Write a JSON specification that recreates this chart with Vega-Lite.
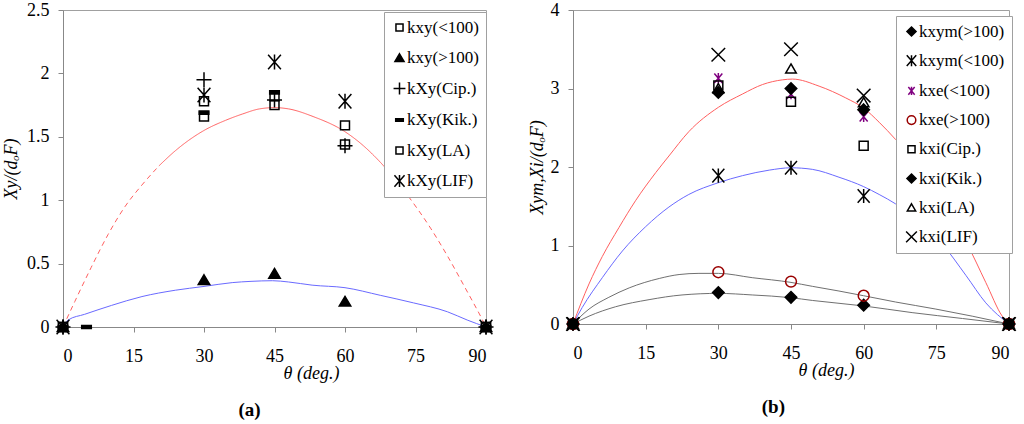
{
  "$schema": "https://vega.github.io/schema/vega-lite/v6.json",
  "padding": {"left": 2, "top": 0, "right": 0, "bottom": 0},
  "background": "white",
  "bounds": "flush",
  "spacing": 87,
  "config": {
    "view": {"stroke": "#a0a0a0", "strokeWidth": 1},
    "axis": {
      "labelFont": "Liberation Serif, Times New Roman, serif", "labelFontSize": 18, "labelColor": "black",
      "titleFont": "Liberation Serif, Times New Roman, serif", "titleFontSize": 18, "titleFontStyle": "italic", "titleFontWeight": "normal", "titleColor": "black",
      "domainColor": "#888", "tickColor": "#888", "grid": false, "tickSize": 5
    },
    "legend": {
      "labelFont": "Liberation Serif, Times New Roman, serif", "labelColor": "black",
      "symbolSize": 160, "symbolStrokeWidth": 1.5,
      "fillColor": "white", "strokeColor": "#a0a0a0", "labelOffset": -1
    }
  },
  "datasets": {
    "curvesA": [
      {"c": "red", "part": "p1", "style": "dash", "x": 0, "y": 0},
      {"c": "red", "part": "p1", "style": "dash", "x": 2.5, "y": 0.2},
      {"c": "red", "part": "p1", "style": "dash", "x": 6, "y": 0.47},
      {"c": "red", "part": "p1", "style": "dash", "x": 9.6, "y": 0.73},
      {"c": "red", "part": "p1", "style": "dash", "x": 13.2, "y": 0.95},
      {"c": "red", "part": "p1", "style": "dash", "x": 16.8, "y": 1.12},
      {"c": "red", "part": "p1", "style": "dash", "x": 20.4, "y": 1.27},
      {"c": "red", "part": "p2", "style": "solid", "x": 20.4, "y": 1.27},
      {"c": "red", "part": "p2", "style": "solid", "x": 23.9, "y": 1.39},
      {"c": "red", "part": "p2", "style": "solid", "x": 30, "y": 1.55},
      {"c": "red", "part": "p2", "style": "solid", "x": 34.6, "y": 1.63},
      {"c": "red", "part": "p2", "style": "solid", "x": 38.2, "y": 1.68},
      {"c": "red", "part": "p2", "style": "solid", "x": 41.8, "y": 1.72},
      {"c": "red", "part": "p2", "style": "solid", "x": 45, "y": 1.73},
      {"c": "red", "part": "p2", "style": "solid", "x": 48, "y": 1.72},
      {"c": "red", "part": "p2", "style": "solid", "x": 53.2, "y": 1.66},
      {"c": "red", "part": "p2", "style": "solid", "x": 60, "y": 1.54},
      {"c": "red", "part": "p2", "style": "solid", "x": 63.9, "y": 1.43},
      {"c": "red", "part": "p2", "style": "solid", "x": 67.5, "y": 1.3},
      {"c": "red", "part": "p2", "style": "solid", "x": 73.5, "y": 1.03},
      {"c": "red", "part": "p3", "style": "dash", "x": 73.5, "y": 1.03},
      {"c": "red", "part": "p3", "style": "dash", "x": 78.2, "y": 0.78},
      {"c": "red", "part": "p3", "style": "dash", "x": 81.8, "y": 0.56},
      {"c": "red", "part": "p3", "style": "dash", "x": 85.4, "y": 0.32},
      {"c": "red", "part": "p3", "style": "dash", "x": 89.6, "y": 0.03},
      {"c": "red", "part": "p3", "style": "dash", "x": 90, "y": 0},
      {"c": "blue", "x": 0, "y": 0},
      {"c": "blue", "x": 1.1, "y": 0.055},
      {"c": "blue", "x": 4.6, "y": 0.1},
      {"c": "blue", "x": 10.3, "y": 0.17},
      {"c": "blue", "x": 16.8, "y": 0.24},
      {"c": "blue", "x": 23.9, "y": 0.29},
      {"c": "blue", "x": 30, "y": 0.32},
      {"c": "blue", "x": 36, "y": 0.35},
      {"c": "blue", "x": 40, "y": 0.36},
      {"c": "blue", "x": 44.6, "y": 0.365},
      {"c": "blue", "x": 48, "y": 0.355},
      {"c": "blue", "x": 53, "y": 0.33},
      {"c": "blue", "x": 60, "y": 0.31},
      {"c": "blue", "x": 67.5, "y": 0.25},
      {"c": "blue", "x": 74.6, "y": 0.19},
      {"c": "blue", "x": 81.8, "y": 0.12},
      {"c": "blue", "x": 86, "y": 0.055},
      {"c": "blue", "x": 90, "y": 0}
    ],
    "pointsA": [
      {"s": "kxy(<100)", "x": 0, "y": 0}, {"s": "kxy(<100)", "x": 30, "y": 1.66}, {"s": "kxy(<100)", "x": 45, "y": 1.75}, {"s": "kxy(<100)", "x": 60, "y": 1.59}, {"s": "kxy(<100)", "x": 90, "y": 0},
      {"s": "kxy(>100)", "x": 0, "y": 0}, {"s": "kxy(>100)", "x": 30, "y": 0.37}, {"s": "kxy(>100)", "x": 45, "y": 0.42}, {"s": "kxy(>100)", "x": 60, "y": 0.2}, {"s": "kxy(>100)", "x": 90, "y": 0},
      {"s": "kXy(Cip.)", "x": 0, "y": 0}, {"s": "kXy(Cip.)", "x": 30, "y": 1.95}, {"s": "kXy(Cip.)", "x": 45, "y": 1.79}, {"s": "kXy(Cip.)", "x": 60, "y": 1.43}, {"s": "kXy(Cip.)", "x": 90, "y": 0},
      {"s": "kXy(Kik.)", "x": 0, "y": 0}, {"s": "kXy(Kik.)", "x": 5, "y": 0}, {"s": "kXy(Kik.)", "x": 30, "y": 1.69}, {"s": "kXy(Kik.)", "x": 45, "y": 1.85}, {"s": "kXy(Kik.)", "x": 90, "y": 0},
      {"s": "kXy(LA)", "x": 0, "y": 0}, {"s": "kXy(LA)", "x": 30, "y": 1.78}, {"s": "kXy(LA)", "x": 45, "y": 1.82}, {"s": "kXy(LA)", "x": 60, "y": 1.44}, {"s": "kXy(LA)", "x": 90, "y": 0},
      {"s": "kXy(LIF)", "x": 0, "y": 0}, {"s": "kXy(LIF)", "x": 30, "y": 1.83}, {"s": "kXy(LIF)", "x": 45, "y": 2.09}, {"s": "kXy(LIF)", "x": 60, "y": 1.78}, {"s": "kXy(LIF)", "x": 90, "y": 0}
    ],
    "curvesB": [
      {"c": "red", "x": 0, "y": 0}, {"c": "red", "x": 3.3, "y": 0.51}, {"c": "red", "x": 6.05, "y": 0.86}, {"c": "red", "x": 9.5, "y": 1.23},
      {"c": "red", "x": 12.9, "y": 1.57}, {"c": "red", "x": 17.1, "y": 1.93}, {"c": "red", "x": 19.8, "y": 2.14}, {"c": "red", "x": 23.9, "y": 2.45},
      {"c": "red", "x": 30, "y": 2.76}, {"c": "red", "x": 35, "y": 2.93}, {"c": "red", "x": 39.1, "y": 3.05}, {"c": "red", "x": 43.2, "y": 3.11},
      {"c": "red", "x": 45.3, "y": 3.12}, {"c": "red", "x": 50.8, "y": 3.03}, {"c": "red", "x": 56.3, "y": 2.88}, {"c": "red", "x": 60, "y": 2.75},
      {"c": "red", "x": 63.2, "y": 2.57}, {"c": "red", "x": 66.6, "y": 2.35}, {"c": "red", "x": 70, "y": 2.1}, {"c": "red", "x": 75, "y": 1.64},
      {"c": "red", "x": 78, "y": 1.34}, {"c": "red", "x": 81.4, "y": 1.01}, {"c": "red", "x": 85.2, "y": 0.53}, {"c": "red", "x": 88.6, "y": 0.1}, {"c": "red", "x": 90, "y": 0},
      {"c": "blue", "x": 0, "y": 0}, {"c": "blue", "x": 1.9, "y": 0.21}, {"c": "blue", "x": 6.05, "y": 0.59}, {"c": "blue", "x": 10.2, "y": 0.93},
      {"c": "blue", "x": 15, "y": 1.24}, {"c": "blue", "x": 19.8, "y": 1.49}, {"c": "blue", "x": 23.9, "y": 1.65}, {"c": "blue", "x": 30, "y": 1.8},
      {"c": "blue", "x": 35, "y": 1.89}, {"c": "blue", "x": 40.5, "y": 1.96}, {"c": "blue", "x": 45, "y": 1.99}, {"c": "blue", "x": 49.4, "y": 1.97},
      {"c": "blue", "x": 54.9, "y": 1.87}, {"c": "blue", "x": 60, "y": 1.75}, {"c": "blue", "x": 63.2, "y": 1.65}, {"c": "blue", "x": 66.6, "y": 1.53},
      {"c": "blue", "x": 70, "y": 1.38}, {"c": "blue", "x": 73, "y": 1.22}, {"c": "blue", "x": 76.2, "y": 1.02}, {"c": "blue", "x": 81.1, "y": 0.62},
      {"c": "blue", "x": 85.2, "y": 0.27}, {"c": "blue", "x": 90, "y": 0},
      {"c": "gray1", "x": 0, "y": 0}, {"c": "gray1", "x": 3.3, "y": 0.19}, {"c": "gray1", "x": 7.4, "y": 0.34}, {"c": "gray1", "x": 11.6, "y": 0.46},
      {"c": "gray1", "x": 17.8, "y": 0.58}, {"c": "gray1", "x": 21.9, "y": 0.63}, {"c": "gray1", "x": 26, "y": 0.645}, {"c": "gray1", "x": 30, "y": 0.645},
      {"c": "gray1", "x": 37, "y": 0.59}, {"c": "gray1", "x": 45, "y": 0.53}, {"c": "gray1", "x": 49.4, "y": 0.48}, {"c": "gray1", "x": 54.9, "y": 0.42},
      {"c": "gray1", "x": 60, "y": 0.36}, {"c": "gray1", "x": 66.6, "y": 0.28}, {"c": "gray1", "x": 74.9, "y": 0.19}, {"c": "gray1", "x": 82.4, "y": 0.1}, {"c": "gray1", "x": 90, "y": 0},
      {"c": "gray2", "x": 0, "y": 0}, {"c": "gray2", "x": 3.3, "y": 0.1}, {"c": "gray2", "x": 8.8, "y": 0.22}, {"c": "gray2", "x": 15.7, "y": 0.31},
      {"c": "gray2", "x": 22.5, "y": 0.37}, {"c": "gray2", "x": 30, "y": 0.39}, {"c": "gray2", "x": 37, "y": 0.37}, {"c": "gray2", "x": 45, "y": 0.335},
      {"c": "gray2", "x": 49.4, "y": 0.3}, {"c": "gray2", "x": 60, "y": 0.23}, {"c": "gray2", "x": 70, "y": 0.145}, {"c": "gray2", "x": 80.4, "y": 0.07}, {"c": "gray2", "x": 90, "y": 0}
    ],
    "pointsB": [
      {"s": "kxym(>100)", "x": 0, "y": 0}, {"s": "kxym(>100)", "x": 30, "y": 0.4}, {"s": "kxym(>100)", "x": 45, "y": 0.34}, {"s": "kxym(>100)", "x": 60, "y": 0.24}, {"s": "kxym(>100)", "x": 90, "y": 0},
      {"s": "kxym(<100)", "x": 0, "y": 0}, {"s": "kxym(<100)", "x": 30, "y": 1.89}, {"s": "kxym(<100)", "x": 45, "y": 1.99}, {"s": "kxym(<100)", "x": 60, "y": 1.63}, {"s": "kxym(<100)", "x": 90, "y": 0},
      {"s": "kxe(<100)", "x": 0, "y": 0}, {"s": "kxe(<100)", "x": 30, "y": 3.13}, {"s": "kxe(<100)", "x": 45, "y": 2.93}, {"s": "kxe(<100)", "x": 60, "y": 2.64}, {"s": "kxe(<100)", "x": 90, "y": 0},
      {"s": "kxe(>100)", "x": 0, "y": 0}, {"s": "kxe(>100)", "x": 30, "y": 0.66}, {"s": "kxe(>100)", "x": 45, "y": 0.54}, {"s": "kxe(>100)", "x": 60, "y": 0.36}, {"s": "kxe(>100)", "x": 90, "y": 0},
      {"s": "kxi(Cip.)", "x": 0, "y": 0}, {"s": "kxi(Cip.)", "x": 30, "y": 3.04}, {"s": "kxi(Cip.)", "x": 45, "y": 2.83}, {"s": "kxi(Cip.)", "x": 60, "y": 2.27}, {"s": "kxi(Cip.)", "x": 90, "y": 0},
      {"s": "kxi(Kik.)", "x": 0, "y": 0}, {"s": "kxi(Kik.)", "x": 30, "y": 2.95}, {"s": "kxi(Kik.)", "x": 45, "y": 3.0}, {"s": "kxi(Kik.)", "x": 60, "y": 2.73}, {"s": "kxi(Kik.)", "x": 90, "y": 0},
      {"s": "kxi(LA)", "x": 0, "y": 0}, {"s": "kxi(LA)", "x": 30, "y": 3.0}, {"s": "kxi(LA)", "x": 45, "y": 3.25}, {"s": "kxi(LA)", "x": 60, "y": 2.82}, {"s": "kxi(LA)", "x": 90, "y": 0},
      {"s": "kxi(LIF)", "x": 0, "y": 0}, {"s": "kxi(LIF)", "x": 30, "y": 3.43}, {"s": "kxi(LIF)", "x": 45, "y": 3.5}, {"s": "kxi(LIF)", "x": 60, "y": 2.91}, {"s": "kxi(LIF)", "x": 90, "y": 0}
    ]
  },
  "resolve": {
    "scale": {"x": "independent", "y": "independent", "shape": "independent", "fill": "independent", "stroke": "independent", "strokeDash": "independent"},
    "legend": {"shape": "independent", "fill": "independent", "stroke": "independent"}
  },
  "hconcat": [
    {
      "width": 423,
      "height": 317,
      "title": {"text": "(a)", "orient": "bottom", "anchor": "middle", "frame": "bounds", "font": "Liberation Serif, Times New Roman, serif", "fontSize": 19, "fontWeight": "bold", "color": "black", "offset": 19},
      "encoding": {
        "x": {"field": "x", "type": "quantitative", "scale": {"domain": [0, 90], "nice": false, "zero": false},
              "axis": {"values": [0, 15, 30, 45, 60, 75, 90], "title": "θ (deg.)", "labelPadding": 15, "titleX": 248, "titleY": 46, "titleBaseline": "middle"}},
        "y": {"field": "y", "type": "quantitative", "scale": {"domain": [0, 2.5], "nice": false},
              "axis": {"values": [0, 0.5, 1, 1.5, 2, 2.5], "format": "~g", "title": "Xy/(dₒF)", "labelPadding": 9, "titlePadding": 6}}
      },
      "layer": [
        {
          "data": {"name": "curvesA"},
          "transform": [{"filter": "datum.c == 'red'"}],
          "mark": {"type": "line", "stroke": "#ff5f5f", "strokeWidth": 1, "interpolate": "monotone"},
          "encoding": {
            "detail": {"field": "part", "type": "nominal"},
            "strokeDash": {"field": "style", "type": "nominal", "scale": {"domain": ["dash", "solid"], "range": [[5, 4], [1, 0]]}, "legend": null}
          }
        },
        {
          "data": {"name": "curvesA"},
          "transform": [{"filter": "datum.c == 'blue'"}],
          "mark": {"type": "line", "stroke": "#6a6aff", "strokeWidth": 1, "interpolate": "monotone"},
          "encoding": {}
        },
        {
          "data": {"name": "pointsA"},
          "mark": {"type": "point", "filled": true, "opacity": 1, "size": 256, "strokeWidth": 1.5},
          "encoding": {
            "shape": {"field": "s", "type": "nominal",
              "scale": {"domain": ["kxy(<100)", "kxy(>100)", "kXy(Cip.)", "kXy(Kik.)", "kXy(LA)", "kXy(LIF)"],
                        "range": ["M-0.56,-0.56L0.56,-0.56L0.56,0.56L-0.56,0.56Z", "M0,-0.66L0.72,0.56L-0.72,0.56Z", "M-0.94,0L0.94,0M0,-0.94L0,0.94", "M-0.6,-0.2L0.6,-0.2L0.6,0.2L-0.6,0.2Z", "M-0.56,-0.56L0.56,-0.56L0.56,0.56L-0.56,0.56Z", "M-0.8,-0.9L0.8,0.9M-0.8,0.9L0.8,-0.9M0,-0.94L0,0.94"]},
              "legend": {"title": null, "orient": "none", "legendX": 321, "legendY": 2, "padding": 7, "rowPadding": 12.5, "labelFontSize": 17}},
            "fill": {"field": "s", "type": "nominal",
              "scale": {"domain": ["kxy(<100)", "kxy(>100)", "kXy(Cip.)", "kXy(Kik.)", "kXy(LA)", "kXy(LIF)"],
                        "range": ["transparent", "black", "transparent", "black", "transparent", "transparent"]},
              "legend": {"title": null, "orient": "none", "legendX": 321, "legendY": 2, "padding": 7, "rowPadding": 12.5, "labelFontSize": 17}},
            "stroke": {"field": "s", "type": "nominal",
              "scale": {"domain": ["kxy(<100)", "kxy(>100)", "kXy(Cip.)", "kXy(Kik.)", "kXy(LA)", "kXy(LIF)"],
                        "range": ["black", "black", "black", "black", "black", "black"]},
              "legend": {"title": null, "orient": "none", "legendX": 321, "legendY": 2, "padding": 7, "rowPadding": 12.5, "labelFontSize": 17}}
          }
        }
      ]
    },
    {
      "width": 436,
      "height": 314,
      "title": {"text": "(b)", "orient": "bottom", "anchor": "middle", "frame": "bounds", "font": "Liberation Serif, Times New Roman, serif", "fontSize": 19, "fontWeight": "bold", "color": "black", "offset": 19},
      "encoding": {
        "x": {"field": "x", "type": "quantitative", "scale": {"domain": [0, 90], "nice": false, "zero": false},
              "axis": {"values": [0, 15, 30, 45, 60, 75, 90], "title": "θ (deg.)", "labelPadding": 15, "titleX": 253, "titleY": 46, "titleBaseline": "middle"}},
        "y": {"field": "y", "type": "quantitative", "scale": {"domain": [0, 4], "nice": false},
              "axis": {"values": [0, 1, 2, 3, 4], "format": "~g", "title": "Xym,Xi/(dₒF)", "labelPadding": 9, "titlePadding": 4}}
      },
      "layer": [
        {
          "data": {"name": "curvesB"},
          "transform": [{"filter": "datum.c == 'red'"}],
          "mark": {"type": "line", "stroke": "#ff5f5f", "strokeWidth": 1, "interpolate": "monotone"},
          "encoding": {}
        },
        {
          "data": {"name": "curvesB"},
          "transform": [{"filter": "datum.c == 'blue'"}],
          "mark": {"type": "line", "stroke": "#6a6aff", "strokeWidth": 1, "interpolate": "monotone"},
          "encoding": {}
        },
        {
          "data": {"name": "curvesB"},
          "transform": [{"filter": "datum.c == 'gray1'"}],
          "mark": {"type": "line", "stroke": "#707070", "strokeWidth": 1, "interpolate": "monotone"},
          "encoding": {}
        },
        {
          "data": {"name": "curvesB"},
          "transform": [{"filter": "datum.c == 'gray2'"}],
          "mark": {"type": "line", "stroke": "#707070", "strokeWidth": 1, "interpolate": "monotone"},
          "encoding": {}
        },
        {
          "data": {"name": "pointsB"},
          "mark": {"type": "point", "filled": true, "opacity": 1, "size": 256, "strokeWidth": 1.5},
          "encoding": {
            "shape": {"field": "s", "type": "nominal",
              "scale": {"domain": ["kxym(>100)", "kxym(<100)", "kxe(<100)", "kxe(>100)", "kxi(Cip.)", "kxi(Kik.)", "kxi(LA)", "kxi(LIF)"],
                        "range": ["M0,-0.72L0.72,0L0,0.72L-0.72,0Z", "M-0.75,-0.85L0.75,0.85M-0.75,0.85L0.75,-0.85M0,-0.88L0,0.88", "M-0.5,-0.6L0.5,0.6M-0.5,0.6L0.5,-0.6M0,-0.65L0,0.65", "M0.68,0A0.68,0.68 0 1,1 -0.68,0A0.68,0.68 0 1,1 0.68,0Z", "M-0.56,-0.56L0.56,-0.56L0.56,0.56L-0.56,0.56Z", "M0,-0.72L0.72,0L0,0.72L-0.72,0Z", "M0,-0.62L0.66,0.52L-0.66,0.52Z", "M-0.85,-0.85L0.85,0.85M-0.85,0.85L0.85,-0.85"]},
              "legend": {"title": null, "orient": "none", "legendX": 323, "legendY": 6, "padding": 7, "rowPadding": 11.2, "labelFontSize": 17}},
            "fill": {"field": "s", "type": "nominal",
              "scale": {"domain": ["kxym(>100)", "kxym(<100)", "kxe(<100)", "kxe(>100)", "kxi(Cip.)", "kxi(Kik.)", "kxi(LA)", "kxi(LIF)"],
                        "range": ["black", "transparent", "transparent", "transparent", "transparent", "black", "transparent", "transparent"]},
              "legend": {"title": null, "orient": "none", "legendX": 323, "legendY": 6, "padding": 7, "rowPadding": 11.2, "labelFontSize": 17}},
            "stroke": {"field": "s", "type": "nominal",
              "scale": {"domain": ["kxym(>100)", "kxym(<100)", "kxe(<100)", "kxe(>100)", "kxi(Cip.)", "kxi(Kik.)", "kxi(LA)", "kxi(LIF)"],
                        "range": ["black", "black", "#800080", "#990000", "black", "black", "black", "black"]},
              "legend": {"title": null, "orient": "none", "legendX": 323, "legendY": 6, "padding": 7, "rowPadding": 11.2, "labelFontSize": 17}}
          }
        }
      ]
    }
  ]
}
